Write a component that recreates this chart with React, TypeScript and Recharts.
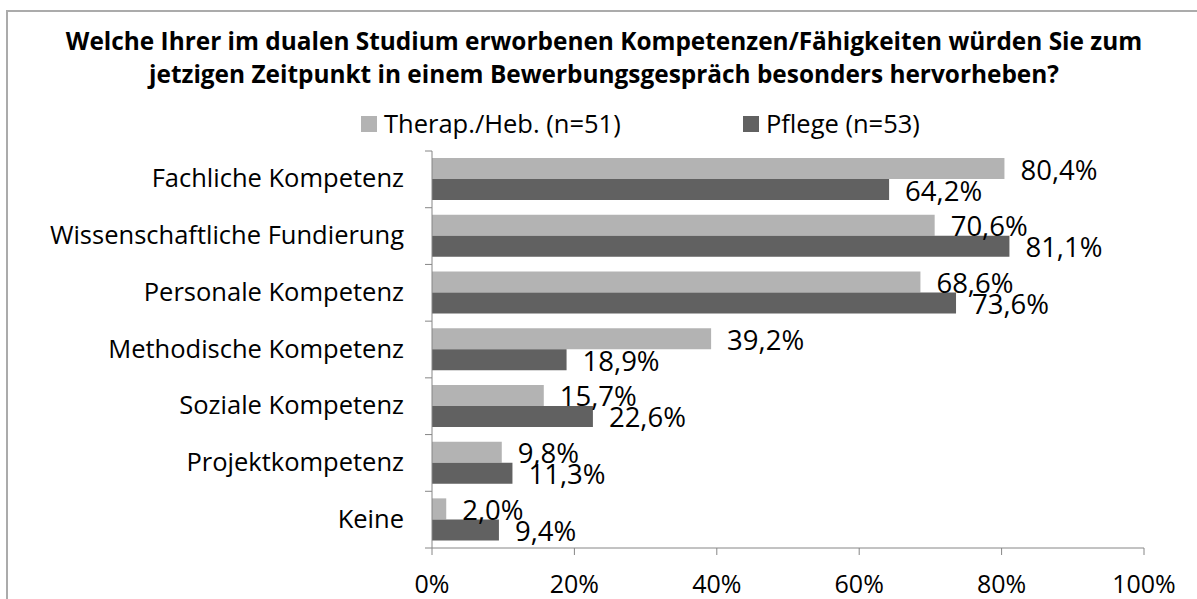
import React from 'react';
import { BarChart, Bar, XAxis, YAxis, Legend, LabelList } from 'recharts';

const categories = [
  'Fachliche Kompetenz',
  'Wissenschaftliche Fundierung',
  'Personale Kompetenz',
  'Methodische Kompetenz',
  'Soziale Kompetenz',
  'Projektkompetenz',
  'Keine',
];
const therapValues = [80.4, 70.6, 68.6, 39.2, 15.7, 9.8, 2.0];
const pflegeValues = [64.2, 81.1, 73.6, 18.9, 22.6, 11.3, 9.4];
const xTicks = [0, 20, 40, 60, 80, 100];
const seriesNames = ['Therap./Heb. (n=51)', 'Pflege (n=53)'];

const data = categories.map((name, i) => ({ name, therap: therapValues[i], pflege: pflegeValues[i] }));

const W = 1197, H = 599;
const PLOT_TOP = 151, PLOT_BOTTOM = 548, PLOT_LEFT = 432, PLOT_RIGHT = 1144;
const BAND = (PLOT_BOTTOM - PLOT_TOP) / categories.length;
const FONT = '"Open Sans", sans-serif';
const AXIS_COLOR = '#868686';
const LIGHT = '#B3B3B3', DARK = '#616161';

const fmt = (v: number) => v.toFixed(1).replace('.', ',') + '%';

const CategoryTick = (props: any) => {
  const { y, payload, index } = props;
  const top = y - BAND / 2;
  return (
    <g>
      <line x1={PLOT_LEFT - 7} x2={PLOT_LEFT} y1={top} y2={top} stroke={AXIS_COLOR} />
      {index === categories.length - 1 && (
        <line x1={PLOT_LEFT - 7} x2={PLOT_LEFT} y1={y + BAND / 2} y2={y + BAND / 2} stroke={AXIS_COLOR} />
      )}
      <text x={PLOT_LEFT - 28} y={y + 8} textAnchor="end" fontSize={25.5} fill="#000" fontFamily={FONT}>
        {payload.value}
      </text>
    </g>
  );
};

const ValueLabel = (props: any) => {
  const { x, y, width, height, value } = props;
  return (
    <text x={x + width + 16} y={y + height / 2 + 11} fontSize={27.5} fill="#000" fontFamily={FONT}>
      {fmt(value)}
    </text>
  );
};

const LegendContent = (props: any) => {
  const items = [...(props.payload || [])].sort(
    (a: any, b: any) => seriesNames.indexOf(a.value) - seriesNames.indexOf(b.value)
  );
  return (
    <div style={{ display: 'flex', alignItems: 'center', fontFamily: FONT, fontSize: 25.5, lineHeight: 1 }}>
      {items.map((it: any, i: number) => (
        <div key={it.value} style={{ display: 'flex', alignItems: 'center', width: i === 0 ? 382 : 'auto' }}>
          <span style={{ display: 'inline-block', width: 16, height: 16, background: it.color, marginRight: 7 }} />
          <span style={{ color: '#000' }}>{it.value}</span>
        </div>
      ))}
    </div>
  );
};

export default function App() {
  return (
    <div style={{ position: 'absolute', left: 0, top: 0, width: W, height: H, background: '#fff', overflow: 'hidden' }}>
      <div style={{ position: 'absolute', left: 6, top: 10, width: W, height: H, borderTop: '2px solid #ABABAB', borderLeft: '2px solid #ABABAB' }} />
      <div style={{ position: 'absolute', left: 4, top: 24, width: 1200, textAlign: 'center', fontFamily: FONT, fontWeight: 700, fontSize: 24.4, lineHeight: '33px', color: '#000' }}>
        <div>Welche Ihrer im dualen Studium erworbenen Kompetenzen/Fähigkeiten würden Sie zum</div>
        <div>jetzigen Zeitpunkt in einem Bewerbungsgespräch besonders hervorheben?</div>
      </div>
      <BarChart
        width={W}
        height={H}
        data={data}
        layout="vertical"
        margin={{ top: PLOT_TOP, right: W - PLOT_RIGHT, bottom: 0, left: 0 }}
        barCategoryGap="12.5%"
        barGap={0}
        style={{ fontFamily: FONT }}
      >
        <XAxis
          type="number"
          domain={[0, 100]}
          ticks={xTicks}
          tickFormatter={(v: number) => v + '%'}
          height={H - PLOT_BOTTOM}
          stroke={AXIS_COLOR}
          tickSize={7}
          tickMargin={20}
          tick={{ fill: '#000', fontSize: 25, fontFamily: FONT }}
          interval={0}
        />
        <YAxis
          type="category"
          dataKey="name"
          width={PLOT_LEFT}
          stroke={AXIS_COLOR}
          tickLine={false}
          tick={<CategoryTick />}
          interval={0}
        />
        <Legend
          layout="horizontal"
          verticalAlign="middle"
          align="center"
          content={<LegendContent />}
          wrapperStyle={{ top: 111, left: 361, width: 800, height: 30 }}
        />
        <Bar dataKey="therap" name={seriesNames[0]} fill={LIGHT} isAnimationActive={false}>
          <LabelList dataKey="therap" content={<ValueLabel />} />
        </Bar>
        <Bar dataKey="pflege" name={seriesNames[1]} fill={DARK} isAnimationActive={false}>
          <LabelList dataKey="pflege" content={<ValueLabel />} />
        </Bar>
      </BarChart>
    </div>
  );
}
